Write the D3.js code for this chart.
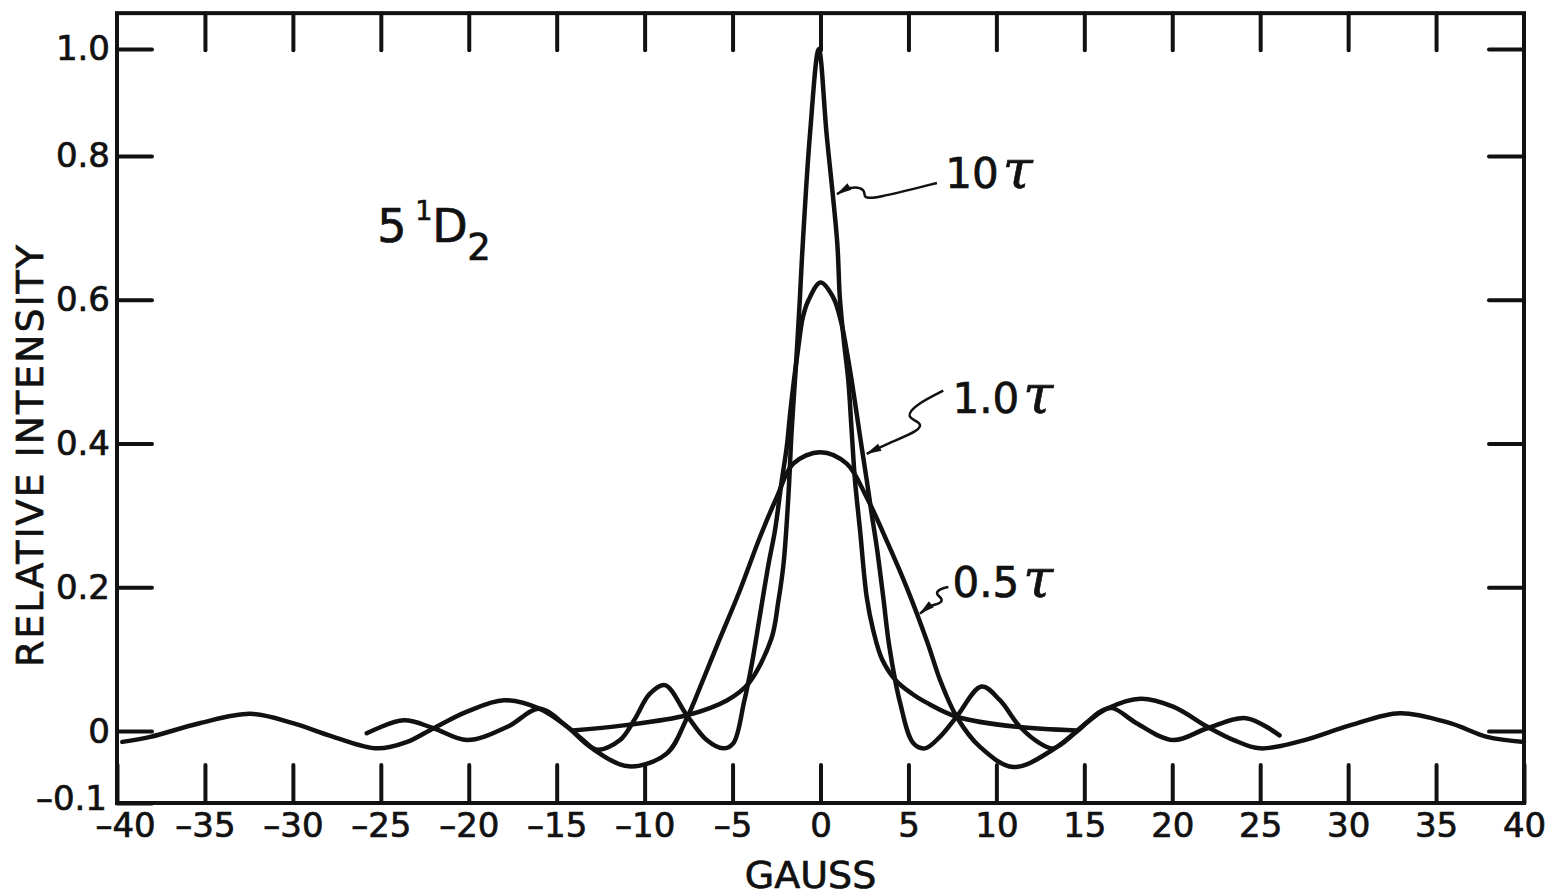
<!DOCTYPE html>
<html>
<head>
<meta charset="utf-8">
<script src="https://cdn.jsdelivr.net/npm/d3@7"></script>
<style>
  html, body { margin: 0; padding: 0; background: #fff; }
  svg { display: block; }
  .axis text { font-family: "DejaVu Sans", sans-serif; font-size: 34px; fill: #111; stroke: #111; stroke-width: 0.7; }
  .axis line { stroke: #111; stroke-width: 4; stroke-linecap: round; }
  .axis path { display: none; }
  .lbl { font-family: "DejaVu Sans", sans-serif; fill: #111; stroke: #111; stroke-width: 0.7; }
</style>
</head>
<body>
<div id="chart"></div>
<script>
// tick values and labels
var xTicks = [-40, -35, -30, -25, -20, -15, -10, -5, 0, 5, 10, 15, 20, 25, 30, 35, 40];
var yTicks = [-0.1, 0, 0.2, 0.4, 0.6, 0.8, 1.0];
var yTickLabels = ["\u20130.1", "0", "0.2", "0.4", "0.6", "0.8", "1.0"];

// curves: [gauss, relative intensity]
var tau10 = [[-14.1, 0.001], [-11.2, 0.008], [-7.6, 0.022], [-5.3, 0.043], [-4.1, 0.066],
  [-2.8, 0.128], [-2.4, 0.18], [-2.1, 0.233], [-1.83, 0.325], [-1.64, 0.418], [-1.39, 0.511],
  [-1.17, 0.603], [-1.05, 0.66], [-0.6, 0.84], [-0.1, 1.0], [0.35, 0.84], [0.95, 0.68],
  [1.1, 0.603], [1.34, 0.54], [1.58, 0.488], [1.77, 0.418], [1.96, 0.349], [2.25, 0.279],
  [2.63, 0.186], [3.0, 0.14], [3.5, 0.1], [4.3, 0.07], [5.2, 0.052], [6.0, 0.04],
  [7.74, 0.02], [11.15, 0.006], [14.56, 0.001]];

var tau1 = [[-25.8, -0.003], [-23.7, 0.015], [-22.0, 0.004], [-20.1, -0.0125], [-17.8, 0.006],
  [-16.0, 0.031], [-14.4, 0.006], [-13.5, -0.0125], [-12.7, -0.026], [-11.4, -0.0125],
  [-10.6, 0.015], [-9.7, 0.052], [-8.84, 0.064], [-7.6, 0.022], [-6.47, -0.0125],
  [-5.53, -0.024], [-4.96, -0.017], [-4.35, 0.04], [-3.9, 0.094], [-3.45, 0.16],
  [-2.95, 0.233], [-2.59, 0.279], [-2.2, 0.349], [-1.92, 0.395], [-1.73, 0.441],
  [-1.51, 0.488], [-1.26, 0.534], [-1.01, 0.575], [-0.69, 0.599], [0, 0.624], [0.73, 0.603],
  [1.2, 0.566], [1.49, 0.529], [1.77, 0.488], [2.06, 0.441], [2.34, 0.395], [2.63, 0.349],
  [2.91, 0.302], [3.2, 0.256], [3.57, 0.186], [3.9, 0.12], [4.52, 0.04], [5.28, -0.017],
  [5.94, -0.024], [6.79, -0.008], [7.74, 0.02], [9.16, 0.062], [10.2, 0.043], [11.34, 0.006],
  [12.48, -0.017], [13.23, -0.024], [14.56, -0.001], [15.9, 0.027], [16.6, 0.032],
  [17.97, 0.011], [20.05, -0.0125], [22.0, 0.004], [24.2, 0.018], [26.1, -0.006]];

var tau05 = [[-39.7, -0.015], [-38.1, -0.008], [-35.3, 0.011], [-32.4, 0.024], [-30.0, 0.011],
  [-27.7, -0.008], [-25.2, -0.024], [-23.5, -0.015], [-22.0, 0.004], [-20.1, 0.027],
  [-18.0, 0.043], [-15.95, 0.031], [-14.4, 0.006], [-13.1, -0.022], [-10.9, -0.049],
  [-8.74, -0.031], [-7.6, 0.018], [-6.7, 0.07], [-5.8, 0.124], [-4.58, 0.196], [-3.44, 0.27],
  [-2.49, 0.325], [-1.55, 0.372], [0, 0.388], [1.49, 0.372], [2.63, 0.325], [3.76, 0.265],
  [4.9, 0.2], [6.1, 0.122], [6.8, 0.071], [7.74, 0.02], [9.07, -0.022], [10.96, -0.05],
  [13.2, -0.026], [15.3, 0.015], [16.27, 0.031], [18.2, 0.045], [20.05, 0.034], [22.0, 0.006],
  [23.5, -0.0125], [25.0, -0.024], [27.3, -0.014], [30.1, 0.008], [32.95, 0.025],
  [35.8, 0.011], [37.9, -0.008], [40.0, -0.015]];

// leader lines from the curve labels, in data units
var lead10 = [[6.62, 0.7625], [2.98, 0.74], [2.42, 0.742], [2.59, 0.754], [1.68, 0.758], [0.94, 0.747]];
var lead1 = [[6.98, 0.4736], [5.47, 0.455], [4.8, 0.4365], [5.75, 0.4296], [5.66, 0.418], [3.76, 0.3996], [2.63, 0.3857]];
var lead05 = [[7.27, 0.2004], [6.79, 0.198], [6.51, 0.191], [6.98, 0.184], [6.79, 0.177], [6.23, 0.175], [5.66, 0.1635]];

var W = 1547, H = 896;
var yTop = 1.067;

var svg = d3.select("#chart").append("svg")
    .attr("width", W)
    .attr("height", H);

var x = d3.scaleLinear().domain([-40, 40]).range([117, 1524]);
// the drawing's 1.0 mark sits closer to 0.8 than the rest of the scale does
var y = d3.scaleLinear().domain([-0.1, 0.8, 1.0]).range([803, 156, 49]);

var defs = svg.append("defs");
defs.append("marker")
    .attr("id", "arrow")
    .attr("markerUnits", "userSpaceOnUse")
    .attr("viewBox", "0 0 14 8")
    .attr("refX", 13).attr("refY", 4)
    .attr("markerWidth", 16).attr("markerHeight", 9)
    .attr("orient", "auto")
    .append("path")
    .attr("d", "M0,0.5 L14,4 L0,7.5 Z")
    .attr("fill", "#111");

// x & y axis
var xAxis = svg.append("g")
    .attr("class", "axis")
    .attr("transform", "translate(0," + y(-0.1) + ")")
    .call(d3.axisBottom(x).tickValues(xTicks).tickSizeInner(-38).tickSizeOuter(0).tickPadding(10)
        .tickFormat(function (d) { return d < 0 ? "\u2013" + Math.abs(d) : String(d); }));
xAxis.selectAll(".tick text").filter(function (d) { return d === -40; }).attr("dx", 8);

svg.append("g")
    .attr("class", "axis")
    .attr("transform", "translate(0," + y(yTop) + ")")
    .call(d3.axisTop(x).tickValues(xTicks.slice(1, -1)).tickSizeInner(-37).tickSizeOuter(0).tickFormat(""));
var yAxis = svg.append("g")
    .attr("class", "axis")
    .attr("transform", "translate(" + x(-40) + ",0)")
    .call(d3.axisLeft(y).tickValues(yTicks).tickSizeInner(-35).tickSizeOuter(0).tickPadding(7)
        .tickFormat(function (d, i) { return yTickLabels[i]; }));
yAxis.selectAll(".tick text").filter(function (d) { return d === -0.1; }).attr("dy", "0.2em").attr("dx", -3);

svg.append("g")
    .attr("class", "axis")
    .attr("transform", "translate(" + x(40) + ",0)")
    .call(d3.axisRight(y).tickValues(yTicks.slice(1)).tickSizeInner(-35).tickSizeOuter(0).tickFormat(""));

// frame
svg.append("rect")
    .attr("x", x(-40))
    .attr("y", y(yTop))
    .attr("width", x(40) - x(-40))
    .attr("height", y(-0.1) - y(yTop))
    .attr("fill", "none")
    .attr("stroke", "#111")
    .attr("stroke-width", 4);

// axis titles
svg.append("text")
    .attr("class", "lbl")
    .attr("x", (x(-40) + x(40)) / 2 - 10)
    .attr("y", 888)
    .attr("text-anchor", "middle")
    .style("font-size", "38px")
    .text("GAUSS");
svg.append("text")
    .attr("class", "lbl")
    .attr("transform", "translate(43,456) rotate(-90)")
    .attr("text-anchor", "middle")
    .attr("textLength", 422)
    .attr("lengthAdjust", "spacing")
    .style("font-size", "38px")
    .text("RELATIVE  INTENSITY");

// curves
var line = d3.line()
    .x(function (d) { return x(d[0]); })
    .y(function (d) { return y(d[1]); })
    .curve(d3.curveCatmullRom.alpha(0.5));

[tau05, tau1, tau10].forEach(function (s) {
    svg.append("path")
        .datum(s)
        .attr("d", line)
        .attr("fill", "none")
        .attr("stroke", "#111")
        .attr("stroke-width", 4.5)
        .attr("stroke-linejoin", "round")
        .attr("stroke-linecap", "round");
});

// leader lines
var lead = d3.line()
    .x(function (d) { return x(d[0]); })
    .y(function (d) { return y(d[1]); })
    .curve(d3.curveBasis);

[lead10, lead1, lead05].forEach(function (s) {
    svg.append("path")
        .datum(s)
        .attr("d", lead)
        .attr("fill", "none")
        .attr("stroke", "#111")
        .attr("stroke-width", 2.5)
        .attr("marker-end", "url(#arrow)");
});

// curve labels
var labels = [
    {num: "10", at: [7.1, 0.755]},
    {num: "1.0", at: [7.5, 0.442]},
    {num: "0.5", at: [7.5, 0.187]}
];
labels.forEach(function (l) {
    var t = svg.append("text")
        .attr("class", "lbl")
        .attr("x", x(l.at[0]))
        .attr("y", y(l.at[1]))
        .style("font-size", "42px");
    t.append("tspan").text(l.num);
    t.append("tspan")
        .attr("dx", 4)
        .style("font-family", "DejaVu Serif, serif")
        .style("font-style", "italic")
        .style("font-size", "54px")
        .text("\u03c4");
});

// state label 5 1D2
var sx = x(-25.2), sy = y(0.68);
var st = svg.append("text")
    .attr("class", "lbl")
    .attr("y", sy);
st.append("tspan").attr("x", sx).style("font-size", "46px").text("5");
st.append("tspan").attr("x", sx + 38).attr("dy", -22).style("font-size", "27px").text("1");
st.append("tspan").attr("x", sx + 55).attr("dy", 22).style("font-size", "46px").text("D");
st.append("tspan").attr("x", sx + 90).attr("dy", 18).style("font-size", "37px").text("2");
</script>
</body>
</html>
